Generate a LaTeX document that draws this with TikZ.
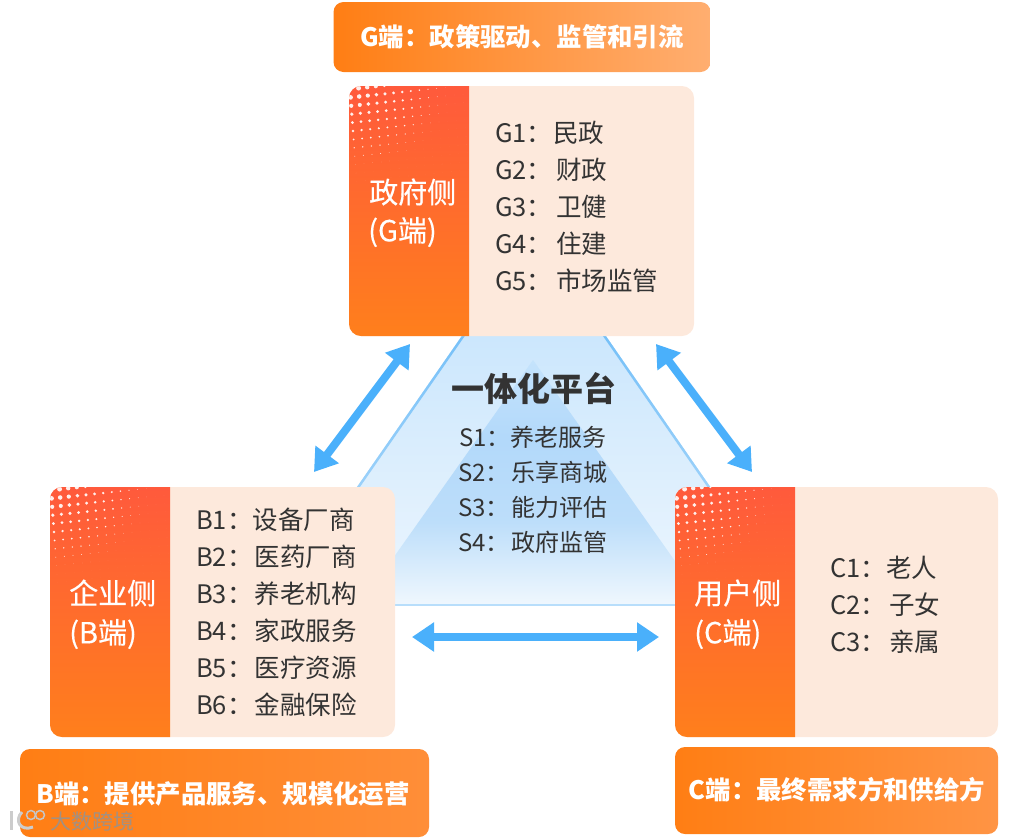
\documentclass[tikz,border=0pt]{standalone}
\usepackage{fontspec}
\setmainfont{Noto Sans CJK SC}
\newfontfamily\sidefont[FakeBold=0.4]{Noto Sans CJK SC}
\usepackage{tikz}
\usetikzlibrary{arrows.meta}
\definecolor{sideorange}{HTML}{FF7F1C}
\definecolor{sidered}{HTML}{FF5A3C}
\definecolor{cardpeach}{HTML}{FDE9DC}
\definecolor{inkgray}{HTML}{333333}
\definecolor{arrowblue}{HTML}{4AB0FB}
\definecolor{edgetop}{HTML}{5DB5F7}
\definecolor{edgelow}{HTML}{B8DEFB}
\definecolor{barorange}{HTML}{FF7E14}
\definecolor{gbarend}{HTML}{FFAE70}
\definecolor{bbarend}{HTML}{FF8E38}
\definecolor{cbarend}{HTML}{FF9444}
\definecolor{outertopblue}{HTML}{BFE1FC}
\definecolor{outerlowblue}{HTML}{EDF6FE}
\pgfdeclareverticalshading{innerfade}{100bp}{
  rgb(0bp)=(0.94,0.97,0.995); rgb(25bp)=(0.94,0.97,0.995); rgb(42bp)=(0.74,0.87,0.98); rgb(59bp)=(0.70,0.85,0.98); rgb(75bp)=(0.77,0.89,0.99); rgb(100bp)=(0.77,0.89,0.99)}
\tikzset{
  cardbox/.style={rectangle, rounded corners=12pt, fill=cardpeach, inner sep=0pt, outer sep=0pt,
    minimum width=#1, minimum height=250pt,
    path picture={
      \shade[sharp corners, top color=sidered, bottom color=sideorange]
        (path picture bounding box.north west) rectangle ++(120,250);
      \foreach \i in {0,...,13} {
        \foreach \j in {0,...,11} {
          \pgfmathsetmacro{\dotx}{\i*8.6+\j*0.6+1}
          \pgfmathsetmacro{\doty}{\j*8.4-\i*0.9+3}
          \pgfmathsetmacro{\dotr}{max(0.01,2.7-0.026*veclen(\dotx,1.22*\doty))}
          \fill[white, opacity=0.9] ([shift={(\dotx,\doty)}]path picture bounding box.north west) circle (\dotr pt);
        }
      }
    }},
  titlebar/.style={rectangle, rounded corners=10pt, inner sep=0pt, outer sep=0pt, left color=barorange},
  titletext/.style={text=white, font=\fontsize{25.4}{30}\selectfont\bfseries},
  sidetext/.style={text=white, font=\fontsize{29}{33}\selectfont\sidefont, anchor=west, inner sep=0pt},
  itemtext/.style={text=inkgray, font=\fontsize{25.5}{30}\selectfont, anchor=west, inner sep=0pt},
  platformtext/.style={text=inkgray, font=\fontsize{24}{28}\selectfont, anchor=west, inner sep=0pt},
  linkarrow/.style={draw=arrowblue, line width=8pt, {Triangle[length=22pt,width=28pt]}-{Triangle[length=22pt,width=28pt]}}
}
\begin{document}
\begin{tikzpicture}[x=1pt, y=-1pt]
  \useasboundingbox (0,0) rectangle (1033,839);

  \coordinate (outertop) at (534,232);
  \coordinate (outerleft) at (275,605);
  \coordinate (outerright) at (792,605);
  \coordinate (innertop) at (533,360);
  \coordinate (innerleft) at (360,605);
  \coordinate (innerright) at (706,605);
  \shade[top color=outertopblue, bottom color=outerlowblue] (outertop) -- (outerleft) -- (outerright) -- cycle;
  \shade[shading=innerfade] (innertop) -- (innerleft) -- (innerright) -- cycle;
  \shade[top color=edgetop, bottom color=edgelow] (outertop) -- (outerleft) -- ([xshift=3pt]outerleft) -- ([xshift=3pt]outertop) -- cycle;
  \shade[top color=edgetop, bottom color=edgelow] (outertop) -- (outerright) -- ([xshift=-3pt]outerright) -- ([xshift=-3pt]outertop) -- cycle;
  \draw[edgelow, line width=1.5pt] (outerleft) -- (outerright);

  \node[titlebar, right color=gbarend, minimum width=377pt, minimum height=70pt] (gbar) at (522,37) {};
  \node[titletext] (gtitle) at (522,37) {G端：政策驱动、监管和引流};
  \node[cardbox=345pt] (gcard) at (521.5,211) {};
  \node[sidetext] (gname) at (369,192) {政府侧};
  \node[sidetext] (gkind) at (368,232) {(G端)};
  \node[itemtext] (g1) at (495,133) {G1：\hspace{1pt}民政};
  \node[itemtext] (g2) at (495,170) {G2：\hspace{4pt}财政};
  \node[itemtext] (g3) at (495,207) {G3：\hspace{4pt}卫健};
  \node[itemtext] (g4) at (495,244) {G4：\hspace{4pt}住建};
  \node[itemtext] (g5) at (495,281) {G5：\hspace{4pt}市场监管};

  \node[cardbox=345pt] (bcard) at (222.5,612) {};
  \node[sidetext] (bname) at (69,593) {企业侧};
  \node[sidetext] (bkind) at (69,634) {(B端)};
  \node[itemtext] (b1) at (196,520) {B1：\hspace{0pt}设备厂商};
  \node[itemtext] (b2) at (196,557) {B2：\hspace{2pt}医药厂商};
  \node[itemtext] (b3) at (196,594) {B3：\hspace{2pt}养老机构};
  \node[itemtext] (b4) at (196,631) {B4：\hspace{2pt}家政服务};
  \node[itemtext] (b5) at (196,668) {B5：\hspace{2pt}医疗资源};
  \node[itemtext] (b6) at (196,705) {B6：\hspace{2pt}金融保险};
  \node[titlebar, right color=bbarend, minimum width=409pt, minimum height=88pt] (bbar) at (224.5,793) {};
  \node[titletext] (btitle) at (223,794) {B端：提供产品服务、规模化运营};

  \node[cardbox=323pt] (ccard) at (836.5,612) {};
  \node[sidetext] (cname) at (694,593) {用户侧};
  \node[sidetext] (ckind) at (694,634) {(C端)};
  \node[itemtext] (c1) at (830,568) {C1：\hspace{0pt}老人};
  \node[itemtext] (c2) at (830,605) {C2：\hspace{3pt}子女};
  \node[itemtext] (c3) at (830,642) {C3：\hspace{3pt}亲属};
  \node[titlebar, right color=cbarend, minimum width=323pt, minimum height=87pt] (cbar) at (836.5,790.5) {};
  \node[titletext] (ctitle) at (837,790) {C端：最终需求方和供给方};

  \node[text=inkgray, font=\fontsize{33}{37}\selectfont\bfseries] (platform) at (534,389) {一体化平台};
  \node[platformtext] (s1) at (459,437) {S1：\hspace{0pt}养老服务};
  \node[platformtext] (s2) at (458,472) {S2：\hspace{1.5pt}乐享商城};
  \node[platformtext] (s3) at (458,507) {S3：\hspace{1.5pt}能力评估};
  \node[platformtext] (s4) at (458,542) {S4：\hspace{1.5pt}政府监管};

  \coordinate (gleft) at (410,344);
  \coordinate (bup) at (314,472);
  \coordinate (gright) at (656,344);
  \coordinate (cup) at (752,472);
  \coordinate (bright) at (412,637);
  \coordinate (cleft) at (659,637);
  \draw[linkarrow] (gleft) -- (bup);
  \draw[linkarrow] (gright) -- (cup);
  \draw[linkarrow] (bright) -- (cleft);

  \node[text=gray!85, opacity=0.85, font=\fontsize{21}{24}\selectfont, anchor=west, inner sep=0pt] (wmark) at (50,821) {大数跨境};
  \draw[gray!40, line width=3pt] (11,811) -- (11,830);
  \draw[gray!40, line width=3pt] (22,812) .. controls (14,820) and (20,832) .. (33,827);
  \draw[gray!45, line width=1.5pt] (31,815) circle (4.5pt);
  \draw[gray!45, line width=1.5pt] (40,815) circle (4.5pt);
\end{tikzpicture}
\end{document}
